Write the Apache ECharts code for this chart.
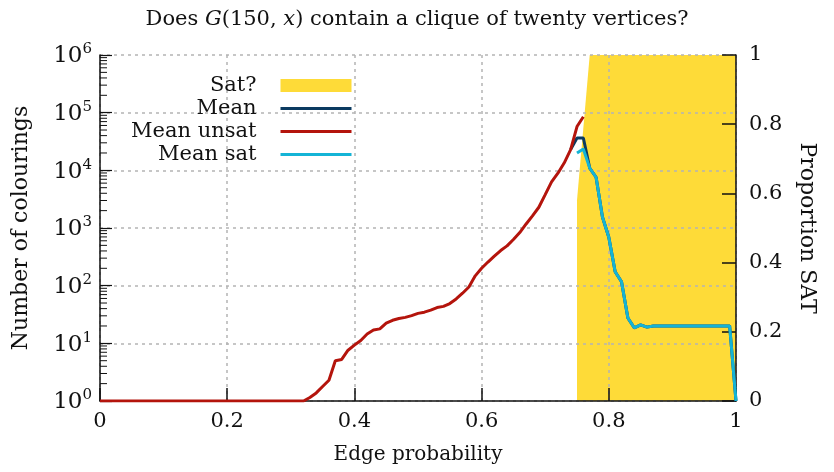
<!DOCTYPE html>
<html><head><meta charset="utf-8">
<script src="https://cdn.jsdelivr.net/npm/echarts@6/dist/echarts.min.js"></script>
<style>html,body{margin:0;padding:0;background:#fff}#c{width:834px;height:472px}</style>
</head><body><div id="c"></div>
<script>
const FONT = 'DejaVu Serif';
// tick labels
const xTickLabels = ['0', '0.2', '0.4', '0.6', '0.8', '1'];
const yExpLabels = ['0', '1', '2', '3', '4', '5', '6'];
const rightTickLabels = ['0', '0.2', '0.4', '0.6', '0.8', '1'];
// Mean unsat (red)
const unsatP = [0, 0.32, 0.33, 0.34, 0.35, 0.36, 0.37, 0.38, 0.39, 0.40, 0.41, 0.42, 0.43, 0.44, 0.45, 0.46, 0.47, 0.48, 0.49, 0.50, 0.51, 0.52, 0.53, 0.54, 0.55, 0.56, 0.57, 0.58, 0.59, 0.60, 0.61, 0.62, 0.63, 0.64, 0.65, 0.66, 0.67, 0.68, 0.69, 0.70, 0.71, 0.72, 0.73, 0.74, 0.75, 0.76];
const unsatV = [1, 1, 1.15, 1.38, 1.78, 2.29, 5.0, 5.25, 7.6, 9.3, 11.2, 14.5, 17.0, 17.8, 22.4, 25.1, 26.9, 28.2, 30.2, 33.1, 34.7, 37.6, 41.7, 43.7, 49, 58.9, 74, 95, 148, 200, 257, 324, 407, 490, 631, 832, 1175, 1622, 2291, 3800, 6310, 8913, 13490, 22900, 57500, 85100];
// Mean (navy) — equals Mean unsat below 0.74 (hidden under red)
const meanP = [0.74, 0.75, 0.76, 0.77, 0.78, 0.79, 0.80, 0.81, 0.82, 0.83, 0.84, 0.85, 0.86, 0.87, 0.88, 0.89, 0.90, 0.91, 0.92, 0.93, 0.94, 0.95, 0.96, 0.97, 0.98, 0.99, 1.00];
const meanV = [22900, 36300, 36300, 10960, 7590, 1550, 692, 174, 117, 27.5, 18.6, 20.9, 19.1, 20, 20, 20, 20, 20, 20, 20, 20, 20, 20, 20, 20, 20, 1];
// Mean sat (cyan)
const satP = [0.75, 0.76, 0.77, 0.78, 0.79, 0.80, 0.81, 0.82, 0.83, 0.84, 0.85, 0.86, 0.87, 0.88, 0.89, 0.90, 0.91, 0.92, 0.93, 0.94, 0.95, 0.96, 0.97, 0.98, 0.99, 1.00];
const satV = [19950, 23400, 10960, 7590, 1550, 692, 174, 117, 27.5, 18.6, 20.9, 19.1, 20, 20, 20, 20, 20, 20, 20, 20, 20, 20, 20, 20, 20, 1];
// Proportion SAT (yellow area)
const propP = [0.75, 0.76, 0.77, 0.80, 0.85, 0.90, 0.95, 1.00];
const propV = [0.58, 0.79, 1, 1, 1, 1, 1, 1];

const zip = (a, b) => a.map((x, i) => [x, b[i]]);

// logarithmic minor tick values (2..9 × 10^d) for the left axis
const minorTickVals = [];
for (let d = 0; d < 6; d++) for (let k = 2; k <= 9; k++) minorTickVals.push([0, k * Math.pow(10, d)]);

const chart = echarts.init(document.getElementById('c'), null, {renderer: 'canvas'});
const axisCol = '#111';
const gridLine = {show: true, lineStyle: {color: '#b4b4b4', width: 1.5, type: [3, 4]}};
const lbl = {fontFamily: FONT, fontSize: 21, color: '#111'};
const hideSym = {itemStyle: {color: 'rgba(0,0,0,0)', borderWidth: 0, opacity: 0}};

chart.setOption({
  animation: false,
  backgroundColor: '#fff',
  title: {
    text: '{n|Does }{i|G}{n|(150, }{i|x}{n|) contain a clique of twenty vertices?}',
    left: 'center', top: 4,
    textStyle: {fontWeight: 'normal', rich: {
      n: {fontFamily: FONT, fontSize: 21, color: '#111', fontWeight: 'normal'},
      i: {fontFamily: FONT, fontSize: 21, color: '#111', fontStyle: 'italic', fontWeight: 'normal'}
    }}
  },
  grid: {left: 100, right: 98, top: 55, bottom: 71, containLabel: false},
  legend: {
    orient: 'vertical', align: 'right', right: 476, top: 70,
    itemWidth: 71, itemHeight: 13, itemGap: 2, selectedMode: false,
    lineStyle: {width: 3},
    textStyle: {fontFamily: FONT, fontSize: 21, color: '#111', padding: [0, 19, 0, 0]},
    data: [
      {name: 'Sat?', icon: 'rect'},
      {name: 'Mean', ...hideSym},
      {name: 'Mean unsat', ...hideSym},
      {name: 'Mean sat', ...hideSym}
    ]
  },
  xAxis: {
    type: 'value', min: 0, max: 1, interval: 0.2, z: 2,
    name: 'Edge probability', nameLocation: 'middle', nameGap: 44,
    nameTextStyle: {fontFamily: FONT, fontSize: 20, color: '#111'},
    axisLine: {lineStyle: {color: axisCol, width: 1.5}},
    axisTick: {inside: true, length: 13, lineStyle: {color: axisCol, width: 1.5}},
    axisLabel: {...lbl, margin: 10, formatter: (v, i) => xTickLabels[i]},
    splitLine: gridLine
  },
  yAxis: [
    {
      type: 'log', logBase: 10, min: 1, max: 1000000, splitNumber: 6, position: 'left', z: 2,
      name: 'Number of colourings', nameLocation: 'middle', nameGap: 68,
      nameTextStyle: {fontFamily: FONT, fontSize: 22, color: '#111'},
      axisLine: {show: true, lineStyle: {color: axisCol, width: 1.5}},
      axisTick: {show: true, inside: true, length: 12, lineStyle: {color: axisCol, width: 1.2}},
      axisLabel: {
        margin: 8,
        formatter: v => '{b|10}{s|' + yExpLabels[Math.round(Math.log10(v))] + '}',
        rich: {
          b: {fontFamily: FONT, fontSize: 23, color: '#111', lineHeight: 26, verticalAlign: 'bottom'},
          s: {fontFamily: FONT, fontSize: 15, color: '#111', lineHeight: 26, verticalAlign: 'top'}
        }
      },
      splitLine: gridLine
    },
    {
      type: 'value', min: 0, max: 1, interval: 0.2, position: 'right', z: 2,
      name: 'Proportion SAT', nameLocation: 'middle', nameGap: 60, nameRotate: -90,
      nameTextStyle: {fontFamily: FONT, fontSize: 22, color: '#111'},
      axisLine: {show: true, lineStyle: {color: axisCol, width: 1.5}},
      axisTick: {show: true, inside: true, length: 14, lineStyle: {color: axisCol, width: 1.5}},
      axisLabel: {...lbl, margin: 13, formatter: (v, i) => rightTickLabels[i]},
      splitLine: {show: false}
    }
  ],
  series: [
    {
      name: 'Sat?', type: 'line', yAxisIndex: 1, z: 1, data: zip(propP, propV),
      showSymbol: false, symbol: 'none', lineStyle: {width: 0},
      itemStyle: {color: '#fedb38'}, areaStyle: {color: '#fedb38', opacity: 1}
    },
    {
      name: 'Mean', type: 'line', yAxisIndex: 0, z: 3, data: zip(meanP, meanV),
      showSymbol: false, lineStyle: {width: 3, color: '#0b3a60'}, itemStyle: {color: '#0b3a60'}
    },
    {
      name: 'Mean unsat', type: 'line', yAxisIndex: 0, z: 3, data: zip(unsatP, unsatV),
      showSymbol: false, lineStyle: {width: 3, color: '#b4140c'}, itemStyle: {color: '#b4140c'}
    },
    {
      name: 'Mean sat', type: 'line', yAxisIndex: 0, z: 3, data: zip(satP, satV),
      showSymbol: false, lineStyle: {width: 3, color: '#14b4d6'}, itemStyle: {color: '#14b4d6'}
    },
    {
      name: 'minor', type: 'custom', xAxisIndex: 0, yAxisIndex: 0, z: 4, silent: true, clip: false,
      encode: {x: 0, y: 1},
      data: minorTickVals,
      renderItem: function (params, api) {
        const p = api.coord([api.value(0), api.value(1)]);
        return {type: 'line', shape: {x1: p[0], y1: p[1], x2: p[0] + 7, y2: p[1]},
                style: {stroke: axisCol, lineWidth: 1}};
      }
    }
  ]
});
</script>
</body></html>
